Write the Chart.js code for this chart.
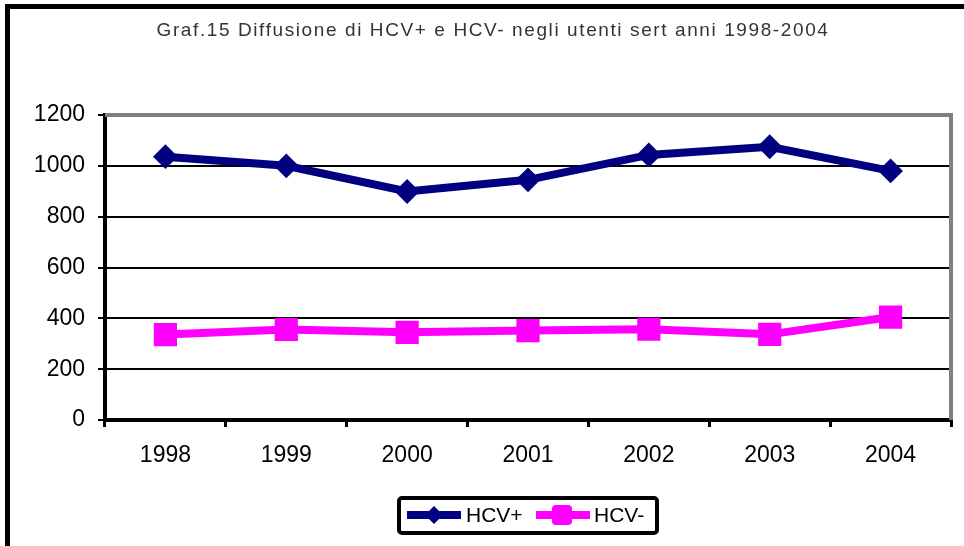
<!DOCTYPE html>
<html>
<head>
<meta charset="utf-8">
<title>Graf.15 HCV</title>
<script src="https://cdn.jsdelivr.net/npm/chart.js"></script>
<style>
    html, body { margin: 0; padding: 0; background: #fff; }
    #wrap { width: 964px; height: 546px; position: relative; }
</style>
</head>
<body>
<div id="wrap"><canvas id="chart" width="964" height="546"></canvas></div>
<script>
// data
const years = ['1998', '1999', '2000', '2001', '2002', '2003', '2004'];
const hcvPos = [1036, 1000, 899, 945, 1043, 1075, 980];
const hcvNeg = [336, 356, 345, 352, 357, 337, 405];
const yTicks = [0, 200, 400, 600, 800, 1000, 1200];
const seriesNames = ['HCV+', 'HCV-'];
const titleText = 'Graf.15 Diffusione di HCV+ e HCV- negli utenti sert anni 1998-2004';

const NAVY = '#000080';
const MAGENTA = '#FF00FF';

// frame, title, gray plot border and the boxed legend
const decorations = {
    id: 'decorations',
    beforeDraw(chart) {
        const ctx = chart.ctx;
        ctx.save();
        ctx.fillStyle = '#fff';
        ctx.fillRect(0, 0, chart.width, chart.height);
        // outer frame (only left and top are visible)
        ctx.fillStyle = '#000';
        ctx.fillRect(5, 4, chart.width - 5, 5);
        ctx.fillRect(5, 4, 5, chart.height - 4);
        // title
        ctx.fillStyle = '#333';
        ctx.font = '19px "Liberation Sans", Arial, sans-serif';
        ctx.letterSpacing = '1.6px';
        ctx.textAlign = 'center';
        ctx.textBaseline = 'middle';
        ctx.fillText(titleText, 493, 31);
        ctx.restore();
    },
    beforeDatasetsDraw(chart) {
        const a = chart.chartArea;
        const ctx = chart.ctx;
        ctx.save();
        ctx.strokeStyle = '#808080';
        ctx.lineWidth = 4;
        ctx.beginPath();
        ctx.moveTo(a.left, a.top);
        ctx.lineTo(a.right, a.top);
        ctx.lineTo(a.right, a.bottom);
        ctx.stroke();
        ctx.restore();
    },
    afterDraw(chart) {
        const ctx = chart.ctx;
        ctx.save();
        // legend box
        ctx.strokeStyle = '#000';
        ctx.lineWidth = 4;
        ctx.beginPath();
        ctx.roundRect(399, 498, 258, 35, 3);
        ctx.stroke();
        const items = [
            { x: 407, textX: 466 },
            { x: 536, textX: 594 }
        ];
        ctx.font = '21px "Liberation Sans", Arial, sans-serif';
        ctx.textBaseline = 'middle';
        chart.data.datasets.forEach((ds, i) => {
            const it = items[i];
            const y = 515;
            ctx.strokeStyle = ds.borderColor;
            ctx.lineWidth = 8;
            ctx.beginPath();
            ctx.moveTo(it.x, y);
            ctx.lineTo(it.x + 54, y);
            ctx.stroke();
            ctx.fillStyle = ds.borderColor;
            if (i === 0) {
                ctx.beginPath();
                ctx.moveTo(it.x + 27 - 9, y);
                ctx.lineTo(it.x + 27, y - 9);
                ctx.lineTo(it.x + 27 + 9, y);
                ctx.lineTo(it.x + 27, y + 9);
                ctx.closePath();
                ctx.fill();
            } else {
                ctx.beginPath();
                ctx.roundRect(it.x + 26 - 10, y - 10, 20, 20, 4);
                ctx.fill();
            }
            ctx.fillStyle = '#000';
            ctx.fillText(ds.label, it.textX, y + 1);
        });
        ctx.restore();
    }
};

const ctx = document.getElementById('chart').getContext('2d');
new Chart(ctx, {
    type: 'line',
    data: {
        labels: years,
        datasets: [
            {
                label: seriesNames[0],
                data: hcvPos,
                borderColor: NAVY,
                backgroundColor: NAVY,
                borderWidth: 8,
                pointStyle: 'rectRot',
                pointRadius: 11,
                pointBorderWidth: 2,
                pointBackgroundColor: NAVY,
                pointBorderColor: NAVY,
                tension: 0
            },
            {
                label: seriesNames[1],
                data: hcvNeg,
                borderColor: MAGENTA,
                backgroundColor: MAGENTA,
                borderWidth: 8,
                pointStyle: 'rect',
                pointRadius: 15,
                pointBorderWidth: 2,
                pointBackgroundColor: MAGENTA,
                pointBorderColor: MAGENTA,
                tension: 0
            }
        ]
    },
    options: {
        responsive: false,
        animation: false,
        events: [],
        layout: { autoPadding: false, padding: { top: 115, left: 10, right: 13, bottom: 66 } },
        plugins: {
            legend: { display: false },
            title: { display: false },
            tooltip: { enabled: false }
        },
        scales: {
            x: {
                offset: true,
                afterFit: (s) => { s.height = 60; s.paddingLeft = 0; s.paddingRight = 0; },
                grid: {
                    offset: true,
                    drawOnChartArea: false,
                    drawTicks: true,
                    tickLength: 7,
                    color: '#000',
                    lineWidth: 3
                },
                border: { display: true, color: '#000', width: 4 },
                ticks: {
                    color: '#000',
                    padding: 15,
                    font: { family: '"Liberation Sans", Arial, sans-serif', size: 23 }
                }
            },
            y: {
                min: 0,
                max: 1200,
                afterFit: (s) => { s.width = 95; s.paddingTop = 0; s.paddingBottom = 0; },
                afterBuildTicks: (s) => { s.ticks = yTicks.map(v => ({ value: v })); },
                grid: {
                    color: (c) => (c.tick && c.tick.value === 1200 ? 'rgba(0,0,0,0)' : '#000'),
                    tickColor: '#000',
                    lineWidth: 2,
                    tickLength: 7
                },
                border: { display: true, color: '#000', width: 4 },
                ticks: {
                    color: '#000',
                    padding: 13,
                    callback: (v) => String(v),
                    font: { family: '"Liberation Sans", Arial, sans-serif', size: 23 }
                }
            }
        }
    },
    plugins: [decorations]
});
</script>
</body>
</html>
